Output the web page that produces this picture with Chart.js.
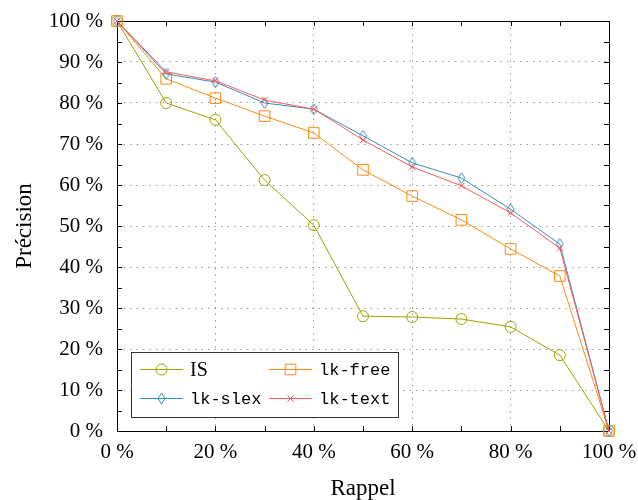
<!DOCTYPE html>
<html>
<head>
<meta charset="utf-8">
<script src="https://cdn.jsdelivr.net/npm/chart.js@4/dist/chart.umd.min.js"></script>
<style>
  html, body { margin: 0; background: #fff; }
</style>
</head>
<body>
<canvas id="c" width="638" height="500"></canvas>
<script>
// recall / precision values (percent)
const recall = [0, 10, 20, 30, 40, 50, 60, 70, 80, 90, 100];
const isVals = [100, 80.0, 75.9, 61.2, 50.2, 28.0, 27.8, 27.3, 25.4, 18.5, 0];
const lkFree = [100, 85.9, 81.2, 76.8, 72.7, 63.7, 57.3, 51.5, 44.4, 37.8, 0];
const lkSlex = [100, 87.1, 85.1, 80.0, 78.5, 72.0, 65.4, 61.7, 54.1, 45.6, 0];
const lkText = [100, 87.6, 85.4, 80.7, 78.5, 71.0, 64.4, 59.8, 53.2, 44.6, 0];
const names = ["IS", "lk-free", "lk-slex", "lk-text"];
const xTitle = "Rappel";
const yTitle = "Précision";

const SERIF = "'Liberation Serif', 'DejaVu Serif', serif";
const MONO = "'Liberation Mono', 'DejaVu Sans Mono', monospace";
const COL = { is: "#a0a000", free: "#ff8a10", slex: "#3a8db2", text: "#ff5a5a" };

// thin pgfplots-like diamond mark
function diamond(color) {
  const c = document.createElement("canvas");
  c.width = 9; c.height = 13;
  const g = c.getContext("2d");
  g.strokeStyle = color; g.lineWidth = 1;
  g.beginPath();
  g.moveTo(4.5, 1); g.lineTo(8, 6.5); g.lineTo(4.5, 12); g.lineTo(1, 6.5); g.closePath();
  g.stroke();
  return c;
}

const pts = (vals) => recall.map((r, i) => ({ x: r, y: vals[i] }));
const ds = (i, vals, color, style, radius, font) => ({
  label: names[i], data: pts(vals), borderColor: color, backgroundColor: "rgba(0,0,0,0)",
  borderWidth: 1, pointStyle: style, pointRadius: radius, pointBorderWidth: 1,
  pointBackgroundColor: "rgba(0,0,0,0)", pointBorderColor: color, clip: false,
  tension: 0, order: 3 - i, legendFont: font,
});

const frame = {
  id: "frame",
  beforeDatasetsDraw(chart) {
    const { ctx, chartArea: a, scales: { x, y } } = chart;
    ctx.save();
    ctx.strokeStyle = "#000";
    ctx.lineWidth = 1;
    ctx.beginPath();
    for (let v = 0; v <= 100; v += 10) {
      const px = Math.round(x.getPixelForValue(v)) + 0.5;
      ctx.moveTo(px, a.bottom); ctx.lineTo(px, a.bottom - 5);
      ctx.moveTo(px, a.top); ctx.lineTo(px, a.top + 5);
    }
    for (let v = 0; v <= 100; v += 5) {
      const py = Math.round(y.getPixelForValue(v)) + 0.5;
      ctx.moveTo(a.left, py); ctx.lineTo(a.left + 5, py);
      ctx.moveTo(a.right, py); ctx.lineTo(a.right - 5, py);
    }
    ctx.stroke();
    ctx.strokeRect(Math.round(a.left) + 0.5, Math.round(a.top) + 0.5,
      Math.round(a.right - a.left), Math.round(a.bottom - a.top));
    ctx.restore();
  },
};

const legendBox = {
  id: "legendBox",
  afterDraw(chart) {
    const { ctx } = chart;
    const bx = 131, by = 352, bw = 267, bh = 65;
    ctx.save();
    ctx.fillStyle = "#fff";
    ctx.fillRect(bx, by, bw, bh);
    ctx.strokeStyle = "#333";
    ctx.lineWidth = 1;
    ctx.strokeRect(bx + 0.5, by + 0.5, bw, bh);
    const cols = [140, 269], rows = [369, 398];
    chart.data.datasets.forEach((d, i) => {
      const x0 = cols[i % 2], yy = rows[Math.floor(i / 2)] + 0.5;
      ctx.strokeStyle = d.borderColor;
      ctx.lineWidth = 1;
      ctx.beginPath(); ctx.moveTo(x0, yy); ctx.lineTo(x0 + 43, yy); ctx.stroke();
      ctx.fillStyle = "rgba(0,0,0,0)";
      Chart.helpers.drawPoint(ctx, { pointStyle: d.pointStyle, radius: d.pointRadius, rotation: 0, borderWidth: 1 }, x0 + 21.5, yy);
      ctx.fillStyle = "#000";
      ctx.font = d.legendFont;
      ctx.textBaseline = "middle";
      ctx.fillText(d.label, x0 + 50, yy + 1);
    });
    ctx.restore();
  },
};

new Chart(document.getElementById("c"), {
  type: "line",
  data: {
    datasets: [
      ds(0, isVals, COL.is, "circle", 5.5, "20px " + SERIF),
      ds(1, lkFree, COL.free, "rect", 7.5, "17px " + MONO),
      ds(2, lkSlex, COL.slex, diamond(COL.slex), 5, "17px " + MONO),
      ds(3, lkText, COL.text, "crossRot", 4.5, "17px " + MONO),
    ],
  },
  options: {
    responsive: false,
    animation: false,
    layout: { padding: { top: 21, right: 29, left: 0, bottom: 0 } },
    plugins: { legend: { display: false }, tooltip: { enabled: false } },
    scales: {
      x: {
        type: "linear", min: 0, max: 100,
        afterFit: (s) => { s.height = 69; s.paddingLeft = 0; s.paddingRight = 0; },
        border: { display: false, dash: [1.5, 5] },
        grid: { drawTicks: false, color: (c) => (c.tick && c.tick.value % 20 === 0 ? "#999" : "rgba(0,0,0,0)") },
        ticks: {
          stepSize: 10, autoSkip: false, maxRotation: 0, padding: 9, color: "#000",
          font: { family: SERIF, size: 21 },
          callback: (v) => (v % 20 === 0 ? v + " %" : ""),
        },
        title: { display: true, text: xTitle, color: "#000", font: { family: SERIF, size: 23, lineHeight: 1 }, padding: 0 },
      },
      y: {
        type: "linear", min: 0, max: 100,
        afterFit: (s) => { s.width = 117; s.paddingTop = 0; s.paddingBottom = 0; },
        border: { display: false, dash: [1.5, 5] },
        grid: { drawTicks: false, color: "#999" },
        ticks: {
          stepSize: 10, padding: 14, color: "#000",
          font: { family: SERIF, size: 21 },
          callback: (v) => v + " %",
        },
        title: { display: true, text: yTitle, color: "#000", font: { family: SERIF, size: 23, lineHeight: 1 }, padding: { top: 13, bottom: 0 } },
      },
    },
  },
  plugins: [frame, legendBox],
});
</script>
</body>
</html>
